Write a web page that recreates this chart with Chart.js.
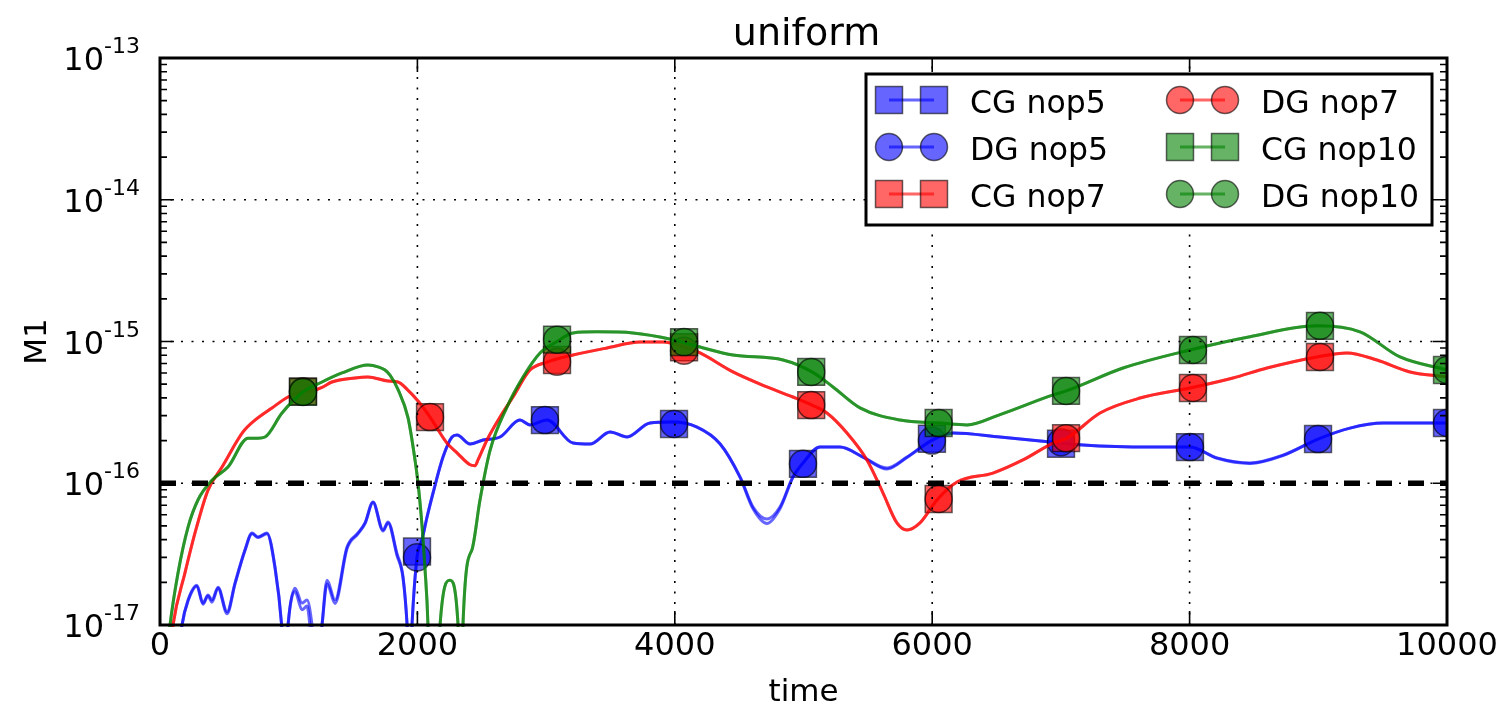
<!DOCTYPE html>
<html>
<head>
<meta charset="utf-8">
<title>uniform</title>
<script src="https://cdn.jsdelivr.net/npm/chart.js@4.4.1/dist/chart.umd.min.js"></script>
<style>
  html, body { margin: 0; padding: 0; background: #fff; }
  canvas { display: block; }
</style>
</head>
<body>
<canvas id="m1Chart" width="1507" height="711"></canvas>
<script>
// ---------------- axes ----------------
const xTicks = [0, 2000, 4000, 6000, 8000, 10000];
const yTickExps = [-13, -14, -15, -16, -17];
const refLevel = 1e-16;

// ---------------- M1 curves [time, value] ----------------
const nop5CGLine = [
  [120, 4e-18], [171, 1.0e-17], [218, 1.5e-17], [287, 1.91e-17], [334, 1.43e-17], [373, 1.63e-17],
  [404, 1.5e-17], [451, 1.85e-17], [521, 1.24e-17], [583, 1.98e-17], [660, 3.38e-17], [715, 4.46e-17],
  [761, 4.18e-17], [831, 4.46e-17], [894, 2.56e-17], [945, 1.0e-17], [970, 4e-18],
  [995, 1.0e-17], [1049, 1.82e-17], [1103, 1.43e-17], [1142, 1.5e-17], [1181, 1.0e-17], [1220, 4e-18],
  [1259, 1.0e-17], [1298, 2.07e-17], [1360, 1.5e-17], [1453, 3.55e-17], [1538, 4.46e-17], [1593, 5.25e-17],
  [1655, 7.38e-17], [1733, 4.68e-17], [1772, 5.33e-17], [1841, 3.2e-17], [1888, 2.2e-17], [1920, 1.0e-17],
  [1940, 4e-18],
  [1958, 1.0e-17], [1997, 3.0e-17], [2036, 4.0e-17], [2075, 5.78e-17], [2121, 8.5e-17], [2199, 1.53e-16],
  [2269, 2.12e-16], [2308, 2.19e-16], [2409, 1.89e-16], [2510, 2.02e-16], [2642, 2.12e-16], [2797, 2.79e-16],
  [2875, 2.58e-16], [3007, 2.79e-16], [3209, 1.92e-16], [3341, 1.89e-16], [3497, 2.3e-16], [3629, 2.12e-16],
  [3807, 2.66e-16], [3986, 2.7e-16], [4173, 2.49e-16], [4351, 1.9e-16], [4507, 1.11e-16], [4608, 6.79e-17],
  [4716, 5.6e-17], [4817, 6.79e-17], [4918, 1.11e-16], [4996, 1.39e-16], [5128, 1.8e-16], [5284, 1.8e-16],
  [5462, 1.53e-16], [5649, 1.28e-16], [5804, 1.53e-16], [5998, 2.02e-16], [6162, 2.26e-16], [6527, 2.12e-16],
  [6939, 1.95e-16], [7172, 1.86e-16], [7692, 1.8e-16], [8003, 1.8e-16], [8213, 1.51e-16], [8469, 1.39e-16],
  [8726, 1.58e-16], [8998, 2.05e-16], [9246, 2.45e-16], [9503, 2.66e-16], [10000, 2.66e-16]
];

const nop5DGLine = [
  [120, 4e-18], [171, 1.0e-17], [218, 1.48e-17], [287, 1.88e-17], [334, 1.4e-17], [373, 1.6e-17],
  [404, 1.45e-17], [451, 1.82e-17], [521, 1.2e-17], [583, 1.95e-17], [660, 3.35e-17], [715, 4.4e-17],
  [761, 4.15e-17], [831, 4.4e-17], [894, 2.5e-17], [945, 1.0e-17], [970, 4e-18],
  [995, 1.0e-17], [1049, 1.72e-17], [1103, 1.28e-17], [1142, 1.36e-17], [1170, 9e-18], [1210, 4e-18],
  [1259, 1.0e-17], [1298, 1.95e-17], [1360, 1.42e-17], [1453, 3.45e-17], [1538, 4.4e-17], [1593, 5.2e-17],
  [1655, 7.3e-17], [1733, 4.6e-17], [1772, 5.25e-17], [1841, 3.1e-17], [1888, 2.15e-17], [1920, 1.0e-17],
  [1940, 4e-18],
  [1958, 1.0e-17], [1997, 3.0e-17], [2036, 4.0e-17], [2075, 5.78e-17], [2121, 8.5e-17], [2199, 1.53e-16],
  [2269, 2.12e-16], [2308, 2.19e-16], [2409, 1.89e-16], [2510, 2.02e-16], [2642, 2.12e-16], [2797, 2.79e-16],
  [2875, 2.58e-16], [3007, 2.79e-16], [3209, 1.92e-16], [3341, 1.89e-16], [3497, 2.3e-16], [3629, 2.12e-16],
  [3807, 2.66e-16], [3986, 2.7e-16], [4173, 2.49e-16], [4351, 1.9e-16], [4507, 1.1e-16], [4608, 6.6e-17],
  [4716, 5.2e-17], [4817, 6.6e-17], [4918, 1.1e-16], [4996, 1.39e-16], [5128, 1.8e-16], [5284, 1.8e-16],
  [5462, 1.53e-16], [5649, 1.26e-16], [5804, 1.52e-16], [5998, 2.0e-16], [6162, 2.26e-16], [6527, 2.12e-16],
  [6939, 1.95e-16], [7172, 1.86e-16], [7692, 1.8e-16], [8003, 1.8e-16], [8213, 1.5e-16], [8469, 1.38e-16],
  [8726, 1.57e-16], [8998, 2.05e-16], [9246, 2.45e-16], [9503, 2.66e-16], [10000, 2.66e-16]
];

// CG and DG lie on top of each other for nop7 and nop10
const nop7Line = [
  [40, 3e-18], [101, 1.0e-17], [194, 2.33e-17], [272, 4.46e-17], [373, 8.95e-17], [482, 1.3e-16],
  [645, 2.3e-16], [738, 2.79e-16], [870, 3.4e-16], [995, 4.06e-16], [1111, 4.45e-16], [1190, 4.5e-16],
  [1259, 4.75e-16], [1336, 5.18e-16], [1515, 5.53e-16], [1616, 5.62e-16], [1772, 5.26e-16], [1849, 5.18e-16],
  [1920, 4.6e-16], [2005, 3.8e-16], [2098, 2.93e-16], [2230, 1.92e-16], [2308, 1.64e-16], [2409, 1.35e-16],
  [2448, 1.33e-16], [2471, 1.46e-16], [2541, 2.02e-16], [2642, 2.93e-16], [2743, 4.06e-16], [2875, 6.29e-16],
  [3007, 7.16e-16], [3209, 8.03e-16], [3473, 9.0e-16], [3730, 9.9e-16], [3909, 9.9e-16], [4079, 9.1e-16],
  [4196, 8.3e-16], [4452, 6.1e-16], [4716, 4.78e-16], [4918, 4.06e-16], [5066, 3.56e-16], [5182, 3.13e-16],
  [5338, 2.26e-16], [5493, 1.46e-16], [5618, 8.53e-17], [5726, 5.25e-17], [5804, 4.68e-17], [5905, 5.25e-17],
  [6037, 7.62e-17], [6193, 1.02e-16], [6472, 1.18e-16], [6705, 1.46e-16], [6939, 1.92e-16], [7047, 2.08e-16],
  [7304, 3.13e-16], [7615, 3.99e-16], [8003, 4.7e-16], [8337, 5.53e-16], [8601, 6.5e-16], [8990, 7.78e-16],
  [9223, 8.3e-16], [9456, 7.4e-16], [9713, 6.1e-16], [10000, 5.62e-16]
];

const nop10Line = [
  [20, 3e-18], [78, 1.0e-17], [140, 2.33e-17], [218, 4.91e-17], [295, 7.62e-17], [404, 1.05e-16],
  [528, 1.3e-16], [684, 2.08e-16], [761, 2.08e-16], [816, 2.12e-16], [948, 3.13e-16], [1111, 4.4e-16],
  [1259, 5.18e-16], [1414, 6.0e-16], [1616, 6.83e-16], [1700, 6.6e-16], [1748, 6.29e-16], [1787, 5.8e-16],
  [1849, 4.6e-16], [1927, 2.9e-16], [1975, 1.6e-16], [2005, 1.0e-16], [2036, 5.0e-17], [2059, 2.5e-17],
  [2082, 1.0e-17], [2130, 1e-19], [2176, 1.0e-17], [2253, 2.07e-17], [2316, 1.0e-17], [2335, 1e-19],
  [2354, 1.0e-17], [2424, 3.4e-17], [2486, 7.6e-17], [2564, 1.7e-16], [2696, 3.45e-16], [2821, 5.62e-16],
  [2953, 8.3e-16], [3085, 1.0e-15], [3209, 1.15e-15], [3395, 1.17e-15], [3675, 1.15e-15], [3986, 1.03e-15],
  [4196, 9.14e-16], [4452, 8.03e-16], [4841, 7.4e-16], [5066, 6.1e-16], [5229, 4.78e-16], [5439, 3.4e-16],
  [5750, 2.79e-16], [6061, 2.66e-16], [6270, 2.58e-16], [6527, 3.05e-16], [6939, 4.2e-16], [7047, 4.5e-16],
  [7483, 6.5e-16], [8003, 8.71e-16], [8469, 1.08e-15], [8990, 1.29e-15], [9324, 1.17e-15], [9635, 7.78e-16],
  [10000, 6.29e-16]
];

// ---------------- sampled markers ----------------
const nop5MarkT = [1997, 2991, 3994, 4996, 5998, 7001, 8003, 8998, 10000];
const nop5CGMark = [3.3e-17, 2.79e-16, 2.62e-16, 1.37e-16, 2.06e-16, 1.9e-16, 1.8e-16, 2.05e-16, 2.66e-16];
const nop5DGMark = [3.0e-17, 2.79e-16, 2.62e-16, 1.37e-16, 2.0e-16, 1.95e-16, 1.8e-16, 2.05e-16, 2.66e-16];

const nop7MarkT = [1111, 2098, 3085, 4072, 5060, 6050, 7040, 8026, 9013];
const nop7CGMark = [4.45e-16, 2.93e-16, 7.4e-16, 9.1e-16, 3.56e-16, 7.74e-17, 2.08e-16, 4.7e-16, 7.78e-16];
const nop7DGMark = [4.45e-16, 2.93e-16, 7.2e-16, 8.6e-16, 3.56e-16, 7.74e-17, 2.08e-16, 4.7e-16, 7.78e-16];

const nop10MarkT = [1111, 3085, 4072, 5060, 6050, 7040, 8026, 9013, 10000];
const nop10CGMark = [4.41e-16, 1.03e-15, 9.9e-16, 6.1e-16, 2.66e-16, 4.48e-16, 8.71e-16, 1.29e-15, 6.29e-16];
const nop10DGMark = [4.41e-16, 1.03e-15, 9.9e-16, 6.1e-16, 2.66e-16, 4.48e-16, 8.71e-16, 1.29e-15, 6.29e-16];

const BLUE = [0, 0, 255];
const RED = [255, 0, 0];
const GREEN = [0, 128, 0];

const series = [
  { label: "CG nop5", color: BLUE, line: nop5CGLine, t: nop5MarkT, v: nop5CGMark, shape: "rect" },
  { label: "DG nop5", color: BLUE, line: nop5DGLine, t: nop5MarkT, v: nop5DGMark, shape: "circle" },
  { label: "CG nop7", color: RED, line: nop7Line, t: nop7MarkT, v: nop7CGMark, shape: "rect" },
  { label: "DG nop7", color: RED, line: nop7Line, t: nop7MarkT, v: nop7DGMark, shape: "circle" },
  { label: "CG nop10", color: GREEN, line: nop10Line, t: nop10MarkT, v: nop10CGMark, shape: "rect" },
  { label: "DG nop10", color: GREEN, line: nop10Line, t: nop10MarkT, v: nop10DGMark, shape: "circle" }
];

const FONT = "DejaVu Sans";
const ALPHA = 0.6;
const EDGE = "rgba(0,0,0,0.6)";

function rgba(c, a) {
  return `rgba(${c[0]},${c[1]},${c[2]},${a})`;
}

// ---------------- datasets ----------------
// later entries sit on top: order is negative draw index
const datasets = [];
let drawIndex = 0;

series.forEach(s => {

  datasets.push({
    label: s.label,
    data: s.line.map(p => ({ x: p[0], y: p[1] })),
    showLine: true,
    borderColor: rgba(s.color, ALPHA),
    borderWidth: 3,
    pointRadius: 0,
    cubicInterpolationMode: "monotone",
    clip: 2,
    order: -(drawIndex++)
  });

  datasets.push({
    label: s.label + " markers",
    data: s.t.map((t, k) => ({ x: t, y: s.v[k] })),
    showLine: false,
    pointStyle: s.shape,
    pointRadius: s.shape === "rect" ? 19 : 13.5,
    pointBackgroundColor: rgba(s.color, ALPHA),
    pointBorderColor: EDGE,
    pointBorderWidth: 1.5,
    clip: 0,
    order: -(drawIndex++)
  });
});

datasets.push({
  label: "reference",
  data: [{ x: xTicks[0], y: refLevel }, { x: xTicks[xTicks.length - 1], y: refLevel }],
  showLine: true,
  borderColor: "#000",
  borderWidth: 5.5,
  borderDash: [16, 16],
  pointRadius: 0,
  order: -(drawIndex++)
});

// ---------------- grid, frame, ticks, text ----------------
function drawMarker(ctx, shape, x, y, color) {
  ctx.fillStyle = rgba(color, ALPHA);
  ctx.strokeStyle = EDGE;
  ctx.lineWidth = 1.5;
  ctx.beginPath();
  if (shape === "rect") {
    ctx.rect(x - 13.5, y - 13.5, 27, 27);
  } else {
    ctx.arc(x, y, 13.5, 0, Math.PI * 2);
  }
  ctx.fill();
  ctx.stroke();
}

const plotDecor = {
  id: "plotDecor",

  afterDatasetsDraw(chart) {
    const { ctx, chartArea: a, scales: { x, y } } = chart;
    ctx.save();

    // dotted grid
    ctx.strokeStyle = "#000";
    ctx.lineWidth = 1.6;
    ctx.setLineDash([2, 8.5]);
    xTicks.slice(1, -1).forEach(t => {
      const px = x.getPixelForValue(t);
      ctx.beginPath();
      ctx.moveTo(px, a.bottom);
      ctx.lineTo(px, a.top);
      ctx.stroke();
    });
    yTickExps.slice(1, -1).forEach(e => {
      const py = y.getPixelForValue(Math.pow(10, e));
      ctx.beginPath();
      ctx.moveTo(a.left, py);
      ctx.lineTo(a.right, py);
      ctx.stroke();
    });
    ctx.setLineDash([]);

    // major and minor ticks, pointing inward
    ctx.lineWidth = 1.6;
    ctx.beginPath();
    xTicks.forEach(t => {
      const px = x.getPixelForValue(t);
      ctx.moveTo(px, a.bottom);
      ctx.lineTo(px, a.bottom - 14);
      ctx.moveTo(px, a.top);
      ctx.lineTo(px, a.top + 14);
    });
    yTickExps.forEach(e => {
      const py = y.getPixelForValue(Math.pow(10, e));
      ctx.moveTo(a.left, py);
      ctx.lineTo(a.left + 14, py);
      ctx.moveTo(a.right, py);
      ctx.lineTo(a.right - 14, py);
      if (e === yTickExps[0]) return;
      for (let m = 2; m <= 9; m++) {
        const pm = y.getPixelForValue(m * Math.pow(10, e));
        ctx.moveTo(a.left, pm);
        ctx.lineTo(a.left + 7, pm);
        ctx.moveTo(a.right, pm);
        ctx.lineTo(a.right - 7, pm);
      }
    });
    ctx.stroke();

    // frame
    ctx.lineWidth = 3;
    ctx.strokeRect(a.left, a.top, a.right - a.left, a.bottom - a.top);

    ctx.restore();
  },

  afterDraw(chart) {
    const { ctx, chartArea: a, scales: { y } } = chart;
    ctx.save();
    ctx.fillStyle = "#000";

    // y tick labels as 10^e
    ctx.textAlign = "right";
    ctx.textBaseline = "alphabetic";
    yTickExps.forEach(e => {
      const py = y.getPixelForValue(Math.pow(10, e));
      const sup = String(e);
      ctx.font = `22px "${FONT}"`;
      ctx.fillText(sup, a.left - 20, py - 5);
      const w = ctx.measureText(sup).width;
      ctx.font = `32px "${FONT}"`;
      ctx.fillText("10", a.left - 20 - w, py + 12);
    });

    // title and axis titles
    ctx.textAlign = "center";
    ctx.font = `38px "${FONT}"`;
    ctx.fillText("uniform", (a.left + a.right) / 2 + 3, 45);
    ctx.font = `31px "${FONT}"`;
    ctx.fillText("time", (a.left + a.right) / 2, 701);
    ctx.save();
    ctx.translate(46, (a.top + a.bottom) / 2);
    ctx.rotate(-Math.PI / 2);
    ctx.fillText("M1", 0, 0);
    ctx.restore();

    // legend: two columns of three
    const boxW = 566, boxH = 151;
    const x0 = a.right - 15 - boxW;
    const y0 = a.top + 16;
    ctx.fillStyle = "#fff";
    ctx.fillRect(x0, y0, boxW, boxH);
    ctx.strokeStyle = "#000";
    ctx.lineWidth = 3;
    ctx.strokeRect(x0, y0, boxW, boxH);

    const colX = [0, 291];
    const rowY = [26, 73, 120];
    ctx.textAlign = "left";
    ctx.font = `31.5px "${FONT}"`;
    series.forEach((s, i) => {
      const cx = x0 + colX[Math.floor(i / 3)];
      const cy = y0 + rowY[i % 3];
      const m1 = cx + 23, m2 = cx + 68;
      ctx.strokeStyle = rgba(s.color, ALPHA);
      ctx.lineWidth = 3;
      ctx.beginPath();
      ctx.moveTo(m1, cy);
      ctx.lineTo(m2, cy);
      ctx.stroke();
      drawMarker(ctx, s.shape, m1, cy, s.color);
      drawMarker(ctx, s.shape, m2, cy, s.color);
      ctx.fillStyle = "#000";
      ctx.fillText(s.label, cx + 104, cy + 13);
    });

    ctx.restore();
  }
};

new Chart(document.getElementById("m1Chart"), {
  type: "scatter",
  data: { datasets },
  options: {
    responsive: false,
    devicePixelRatio: 1,
    animation: false,
    events: [],
    layout: { padding: { top: 58, right: 60, left: 0, bottom: 0 } },
    plugins: {
      legend: { display: false },
      tooltip: { enabled: false },
      title: { display: false }
    },
    scales: {
      x: {
        type: "linear",
        min: xTicks[0],
        max: xTicks[xTicks.length - 1],
        afterBuildTicks: s => { s.ticks = xTicks.map(v => ({ value: v })); },
        afterFit: s => { s.height = 86; },
        grid: { display: false, drawTicks: false },
        border: { display: false },
        ticks: {
          color: "#000",
          padding: 2,
          maxRotation: 0,
          autoSkip: false,
          font: { family: FONT, size: 32 },
          callback: v => String(v)
        }
      },
      y: {
        type: "logarithmic",
        min: Math.pow(10, yTickExps[yTickExps.length - 1]),
        max: Math.pow(10, yTickExps[0]),
        afterFit: s => { s.width = 160; },
        grid: { display: false, drawTicks: false },
        border: { display: false },
        ticks: { display: false }
      }
    }
  },
  plugins: [plotDecor]
});
</script>
</body>
</html>
